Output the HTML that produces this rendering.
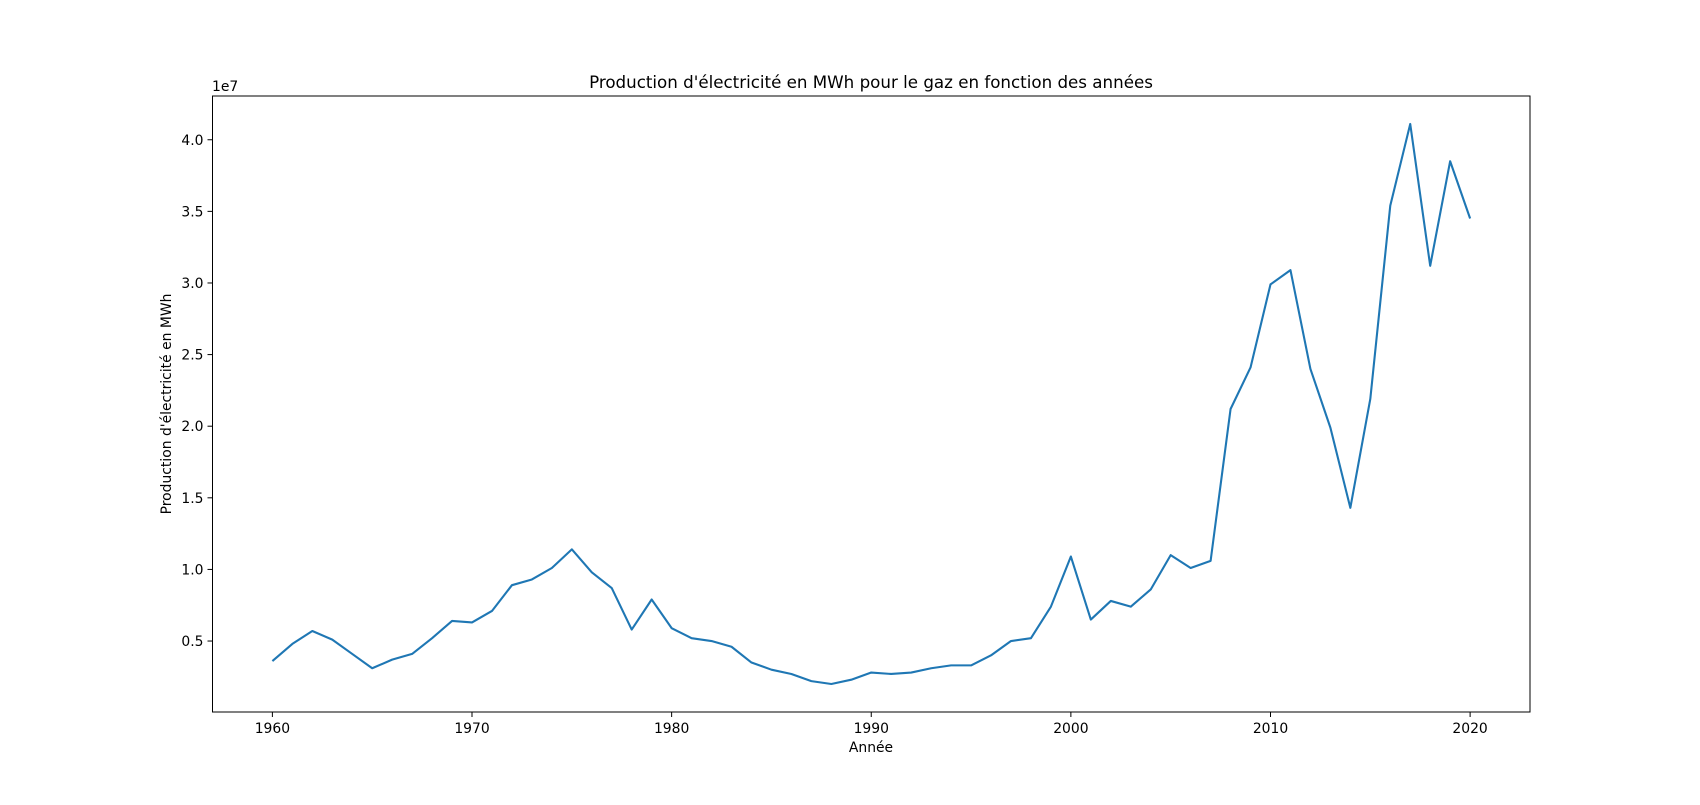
<!DOCTYPE html>
<html><head><meta charset="utf-8"><style>
body{margin:0;background:#fff}
svg text{font-family:"DejaVu Sans","Liberation Sans",sans-serif;fill:#000}
</style></head><body>
<svg id="chart" width="1700" height="800" xmlns="http://www.w3.org/2000/svg">
<rect width="1700" height="800" fill="#fff"/>
<text x="871" y="88" font-size="16.7" text-anchor="middle">Production d'électricité en MWh pour le gaz en fonction des années</text>
<text x="871" y="752" font-size="13.9" text-anchor="middle">Année</text>
<text transform="translate(171,404) rotate(-90)" font-size="13.9" text-anchor="middle">Production d'électricité en MWh</text>
<text x="212" y="91" font-size="13.9">1e7</text>
<g id="xt"></g><g id="yt"></g>
<path id="line" fill="none" stroke="#1f77b4" stroke-width="2.1" stroke-linejoin="round"/>
<rect x="212.5" y="96" width="1317.5" height="616" fill="none" stroke="#000" stroke-width="1"/>
</svg>
<script>
const years = [];
for (let y = 1960; y <= 2020; y++) years.push(y);
const production = [0.36,0.48,0.57,0.51,0.41,0.31,0.37,0.41,0.52,0.64,0.63,0.71,0.89,0.93,1.01,1.14,0.98,0.87,0.58,0.79,0.59,0.52,0.50,0.46,0.35,0.30,0.27,0.22,0.20,0.23,0.28,0.27,0.28,0.31,0.33,0.33,0.40,0.50,0.52,0.74,1.09,0.65,0.78,0.74,0.86,1.10,1.01,1.06,2.12,2.41,2.99,3.09,2.40,1.99,1.43,2.19,3.54,4.11,3.12,3.85,3.45];
const xTicks = [1960,1970,1980,1990,2000,2010,2020];
const yTicks = [0.5,1.0,1.5,2.0,2.5,3.0,3.5,4.0];

const L=212.5,R=1530,T=96,B=712;
const xmin=1957,xmax=2023;
const dmin=Math.min(...production),dmax=Math.max(...production),rg=dmax-dmin;
const ymin=dmin-0.05*rg,ymax=dmax+0.05*rg;
const sx=v=>L+(v-xmin)/(xmax-xmin)*(R-L);
const sy=v=>B-(v-ymin)/(ymax-ymin)*(B-T);
const NS='http://www.w3.org/2000/svg';
const xt=document.getElementById('xt'),yt=document.getElementById('yt');
xTicks.forEach(t=>{
  const l=document.createElementNS(NS,'line');
  l.setAttribute('x1',sx(t));l.setAttribute('x2',sx(t));l.setAttribute('y1',B);l.setAttribute('y2',B+5);l.setAttribute('stroke','#000');
  
  
  xt.appendChild(l);
  const tx=document.createElementNS(NS,'text');
  tx.setAttribute('x',sx(t));tx.setAttribute('y',B+21);tx.setAttribute('font-size','13.9');tx.setAttribute('text-anchor','middle');
  tx.textContent=t;
  
  
  xt.appendChild(tx);
});
yTicks.forEach(t=>{
  const l=document.createElementNS(NS,'line');
  l.setAttribute('x1',L-5);l.setAttribute('x2',L);l.setAttribute('y1',sy(t));l.setAttribute('y2',sy(t));l.setAttribute('stroke','#000');
  
  
  yt.appendChild(l);
  const tx=document.createElementNS(NS,'text');
  tx.setAttribute('x',L-9);tx.setAttribute('y',sy(t)+5);tx.setAttribute('font-size','13.9');tx.setAttribute('text-anchor','end');
  tx.textContent=t.toFixed(1);
  
  
  yt.appendChild(tx);
});
document.getElementById('line').setAttribute('d',production.map((v,i)=>(i?'L':'M')+sx(years[i]).toFixed(2)+','+sy(v).toFixed(2)).join(''));
</script>
</body></html>
